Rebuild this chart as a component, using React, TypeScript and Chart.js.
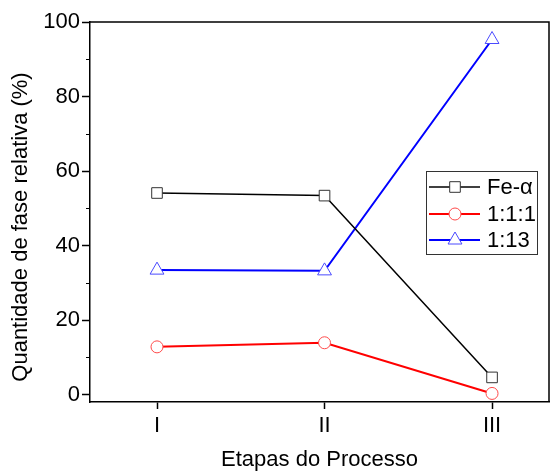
import { useEffect, useRef } from 'react';
import { Chart, registerables } from 'chart.js';

Chart.register(...registerables);

const stages = ['I', 'II', 'III'];
const stagePositions = [1, 2, 3];
const feAlpha = [54.1, 53.4, 4.6];
const phase111 = [12.8, 13.9, 0.3];
const phase113 = [33.4, 33.2, 95.3];
const yMajorTicks = [0, 20, 40, 60, 80, 100];
const yMinorTicks = [10, 30, 50, 70, 90];
const seriesNames = ['Fe-\u03b1', '1:1:1', '1:13'];
const xTitle = 'Etapas do Processo';
const yTitle = 'Quantidade de fase relativa (%)';

const FONT = "'Liberation Sans', Arial, sans-serif";

const toPoints = (vals: number[]) => vals.map((v, i) => ({ x: stagePositions[i], y: v }));

function drawMarker(ctx: CanvasRenderingContext2D, style: string, x: number, y: number, r: number) {
  ctx.beginPath();
  if (style === 'rect') {
    const s = r * Math.SQRT1_2;
    ctx.rect(x - s, y - s, 2 * s, 2 * s);
  } else if (style === 'circle') {
    ctx.arc(x, y, r, 0, Math.PI * 2);
  } else {
    const h = r;
    ctx.moveTo(x, y - h);
    ctx.lineTo(x + h * Math.sin(Math.PI / 3), y + h * 0.5);
    ctx.lineTo(x - h * Math.sin(Math.PI / 3), y + h * 0.5);
    ctx.closePath();
  }
  ctx.fillStyle = '#ffffff';
  ctx.fill();
  ctx.stroke();
}

const framePlugin = {
  id: 'framePlugin',
  afterDraw(chart: any) {
    const { ctx, chartArea } = chart;
    const { left, right, top, bottom } = chartArea;
    ctx.save();
    ctx.strokeStyle = '#000';
    ctx.lineWidth = 1.5;
    ctx.beginPath();
    ctx.moveTo(left, top);
    ctx.lineTo(right, top);
    ctx.lineTo(right, bottom);
    ctx.stroke();
    // minor ticks
    const ys = chart.scales.y;
    ctx.lineWidth = 1.2;
    ctx.beginPath();
    yMinorTicks.forEach((v) => {
      const py = Math.round(ys.getPixelForValue(v)) + 0.5;
      ctx.moveTo(left - 4, py);
      ctx.lineTo(left, py);
    });
    ctx.stroke();

    // y title
    ctx.save();
    ctx.translate(21, (top + bottom) / 2 + 15);
    ctx.rotate(-Math.PI / 2);
    ctx.fillStyle = '#000';
    ctx.font = `22px ${FONT}`;
    ctx.textAlign = 'center';
    ctx.textBaseline = 'middle';
    ctx.fillText(yTitle, 0, 0);
    ctx.restore();

    // legend
    const bx = right - 123;
    const by = top + 149;
    const bw = 111;
    const bh = 83;
    ctx.lineWidth = 1;
    ctx.strokeStyle = '#333';
    ctx.fillStyle = '#fff';
    ctx.fillRect(bx, by, bw, bh);
    ctx.strokeRect(bx + 0.5, by + 0.5, bw, bh);
    const rowY = [by + 16, by + 43, by + 69];
    chart.data.datasets.forEach((ds: any, i: number) => {
      const yy = rowY[i];
      ctx.strokeStyle = ds.borderColor;
      ctx.lineWidth = ds.borderWidth;
      ctx.beginPath();
      ctx.moveTo(bx + 3, yy);
      ctx.lineTo(bx + 54, yy);
      ctx.stroke();
      ctx.strokeStyle = ds.pointBorderColor;
      ctx.lineWidth = 1;
      drawMarker(ctx, ds.pointStyle, bx + 29, yy, ds.pointRadius);
      ctx.fillStyle = '#000';
      ctx.font = `22px ${FONT}`;
      ctx.textBaseline = 'middle';
      ctx.textAlign = 'left';
      ctx.fillText(ds.label, bx + 61, yy + 1);
    });
    ctx.restore();
  },
};

export default function App() {
  const ref = useRef<HTMLCanvasElement>(null);
  useEffect(() => {
    if (!ref.current) return;
    const chart = new Chart(ref.current, {
      type: 'line',
      data: {
        datasets: [
          {
            label: seriesNames[0],
            data: toPoints(feAlpha),
            borderColor: '#000000',
            borderWidth: 1.5,
            pointStyle: 'rect',
            pointRadius: 7.5,
            pointBorderColor: '#333333',
            pointBackgroundColor: '#ffffff',
            pointBorderWidth: 1,
          },
          {
            label: seriesNames[1],
            data: toPoints(phase111),
            borderColor: '#ff0000',
            borderWidth: 2,
            pointStyle: 'circle',
            pointRadius: 6,
            pointBorderColor: '#ff4a4a',
            pointBackgroundColor: '#ffffff',
            pointBorderWidth: 1,
          },
          {
            label: seriesNames[2],
            data: toPoints(phase113),
            borderColor: '#0000ff',
            borderWidth: 2,
            pointStyle: 'triangle',
            pointRadius: 8,
            pointBorderColor: '#4a4aff',
            pointBackgroundColor: '#ffffff',
            pointBorderWidth: 1,
          },
        ] as any,
      },
      options: {
        animation: false,
        responsive: false,
        layout: { autoPadding: false, padding: { top: 22, right: 1, left: 0, bottom: 0 } },
        plugins: { legend: { display: false }, tooltip: { enabled: false } },
        scales: {
          x: {
            type: 'linear',
            min: 0.6,
            max: 3.34,
            afterBuildTicks: (s: any) => {
              s.ticks = stagePositions.map((v) => ({ value: v }));
            },
            afterFit: (s: any) => {
              s.height = 71;
              s.paddingLeft = 0;
              s.paddingRight = 0;
            },
            ticks: {
              color: '#000',
              font: { family: FONT, size: 22 },
              padding: 4,
              callback: (v: any) => stages[stagePositions.indexOf(Number(v))] ?? '',
            },
            grid: { drawOnChartArea: false, drawTicks: true, tickLength: 7, tickColor: '#000', tickWidth: 1.5 },
            border: { display: true, color: '#000', width: 1.5 },
            title: {
              display: true,
              text: xTitle,
              color: '#000',
              font: { family: FONT, size: 22 },
              padding: { top: 0, bottom: 0 },
            },
          },
          y: {
            min: -2,
            max: 100,
            afterBuildTicks: (s: any) => {
              s.ticks = yMajorTicks.map((v) => ({ value: v }));
            },
            afterFit: (s: any) => {
              s.width = 90;
              s.paddingTop = 0;
              s.paddingBottom = 0;
            },
            ticks: {
              color: '#000',
              font: { family: FONT, size: 22 },
              padding: 2,
            },
            grid: { drawOnChartArea: false, drawTicks: true, tickLength: 8, tickColor: '#000', tickWidth: 1.5 },
            border: { display: true, color: '#000', width: 1.5 },
            title: { display: false },
          },
        },
      },
      plugins: [framePlugin],
    });
    return () => chart.destroy();
  }, []);
  return (
    <div style={{ position: 'absolute', left: 0, top: 0, width: 550, height: 473 }}>
      <canvas ref={ref} width={550} height={473} style={{ width: 550, height: 473 }} />
    </div>
  );
}
